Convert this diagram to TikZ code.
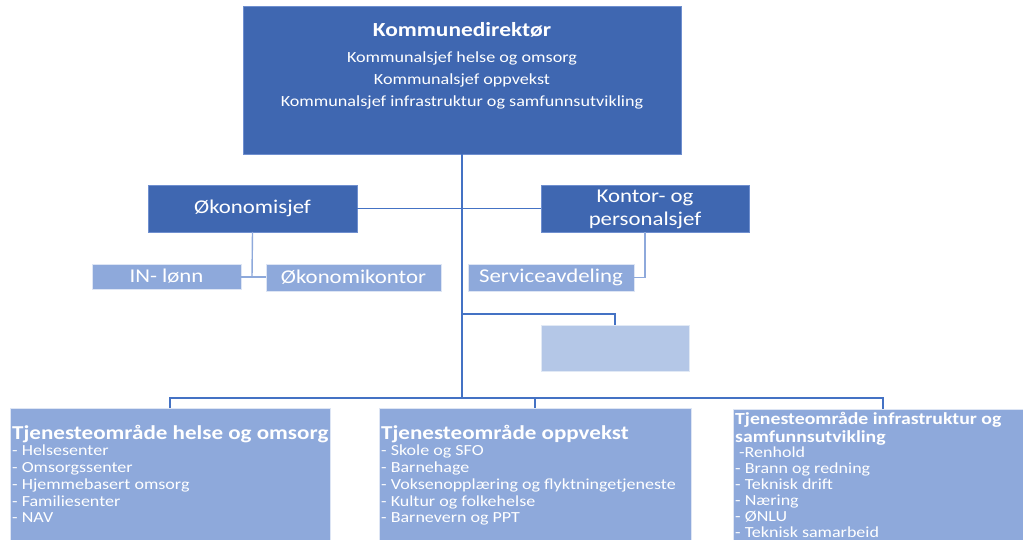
\documentclass[tikz,border=0pt]{standalone}
\usepackage{fontspec}
\setmainfont{Carlito}[FakeStretch=1.17]
\definecolor{dkblue}{HTML}{3F67B1}
\definecolor{ltblue}{HTML}{8EA9DB}
\definecolor{paleblue}{HTML}{B4C7E7}
\definecolor{linblue}{HTML}{4472C4}
\definecolor{edgeblue}{HTML}{6F8FCF}
\tikzset{
  darkbox/.style={draw=edgeblue,line width=0.7pt,fill=dkblue,inner sep=0pt,outer sep=0pt,anchor=north west},
  lightbox/.style={draw=white!70!ltblue,line width=0.7pt,fill=ltblue,inner sep=0pt,outer sep=0pt,anchor=north west},
  palebox/.style={draw=white!60!paleblue,line width=0.7pt,fill=paleblue,inner sep=0pt,outer sep=0pt,anchor=north west},
  wtxt/.style={text=white,inner sep=0pt,font=\fontsize{15.5}{18}\selectfont},
  midtxt/.style={text=white,inner sep=0pt,font=\fontsize{19.5}{22}\selectfont},
  headtxt/.style={text=white,inner sep=0pt,font=\bfseries\fontsize{19.7}{24}\selectfont,anchor=base west},
  head2txt/.style={text=white,inner sep=0pt,font=\bfseries\fontsize{16.9}{22}\selectfont,anchor=base west},
  itemtxt/.style={text=white,inner sep=0pt,font=\fontsize{15.4}{17}\selectfont,anchor=base west},
  mainline/.style={draw=linblue,line width=1.4pt},
  subline/.style={draw=ltblue,line width=1.4pt}
}
\begin{document}
\begin{tikzpicture}[x=1pt,y=-1pt]
\useasboundingbox (0,0) rectangle (1023,540);
\clip (0,0) rectangle (1023,540);
% boxes
\node[darkbox,minimum width=438pt,minimum height=148pt] (kd) at (243,6) {};
\node[darkbox,minimum width=209pt,minimum height=47pt] (oks) at (148,185) {};
\node[darkbox,minimum width=208pt,minimum height=47pt] (kp) at (541,185) {};
\node[lightbox,minimum width=149pt,minimum height=25pt] (inl) at (92,264) {};
\node[lightbox,minimum width=175pt,minimum height=27pt] (okk) at (266,264) {};
\node[lightbox,minimum width=166pt,minimum height=27pt] (sa) at (468,264) {};
\node[palebox,minimum width=148pt,minimum height=46pt] (eb) at (541,325) {};
\node[lightbox,minimum width=320pt,minimum height=150pt] (hl) at (10,408) {};
\node[lightbox,minimum width=312pt,minimum height=150pt] (op) at (379,408) {};
\node[lightbox,minimum width=300pt,minimum height=150pt] (inf) at (733,409) {};
% coordinates
\coordinate (br) at (462,314);
\coordinate (bus) at (462,398);
\coordinate (oy) at (252,277);
% connectors
\draw[mainline] (kd.south) -- (bus);
\draw[mainline] (oks.east) -- (kp.west);
\draw[mainline] (br) -| (eb.north);
\draw[mainline] (hl.north) |- (bus) -| (op.north);
\draw[mainline] (bus) -| (inf.north);
\draw[subline] (oks.south) -- (oy);
\draw[subline] (inl.east |- oy) -- (okk.west |- oy);
\draw[subline] (kp.south) |- (sa.east);
% top texts
\node[wtxt,font=\bfseries\fontsize{20}{22}\selectfont] (t0) at (462,30) {Kommunedirektør};
\node[wtxt] (t1) at (462,58) {Kommunalsjef helse og omsorg};
\node[wtxt] (t2) at (462,80) {Kommunalsjef oppvekst};
\node[wtxt] (t3) at (462,102) {Kommunalsjef infrastruktur og samfunnsutvikling};
% middle texts
\node[midtxt] (oksT) at (oks.center) {Økonomisjef};
\node[midtxt] (kpT1) at (645,198) {Kontor- og};
\node[midtxt] (kpT2) at (645,220) {personalsjef};
\node[midtxt] (inlT) at (inl.center) {IN- lønn};
\node[midtxt] (okkT) at (okk.center) {Økonomikontor};
\node[midtxt] (saT) at (sa.center) {Serviceavdeling};
% bottom left
\node[headtxt] (hlH) at (12,439) {Tjenesteområde helse og omsorg};
\foreach \t [count=\i] in {- Helsesenter,- Omsorgssenter,- Hjemmebasert omsorg,- Familiesenter,- NAV}
  \node[itemtxt] (hlI\i) at (12,{439+16.75*\i}) {\t};
% bottom middle
\node[headtxt] (opH) at (381,439) {Tjenesteområde oppvekst};
\foreach \t [count=\i] in {- Skole og SFO,- Barnehage,- Voksenopplæring og flyktningetjeneste,- Kultur og folkehelse,- Barnevern og PPT}
  \node[itemtxt] (opI\i) at (381,{439+16.75*\i}) {\t};
% bottom right
\node[head2txt] (infH1) at (735,424) {Tjenesteområde infrastruktur og};
\node[head2txt] (infH2) at (735,442) {samfunnsutvikling};
\node[itemtxt] (infI1) at (739,457.5) {-Renhold};
\foreach \t [count=\i] in {- Brann og redning,- Teknisk drift,- Næring,- ØNLU,- Teknisk samarbeid}
  \node[itemtxt] (infI\i x) at (735,{457.5+16*\i}) {\t};
\end{tikzpicture}
\end{document}
